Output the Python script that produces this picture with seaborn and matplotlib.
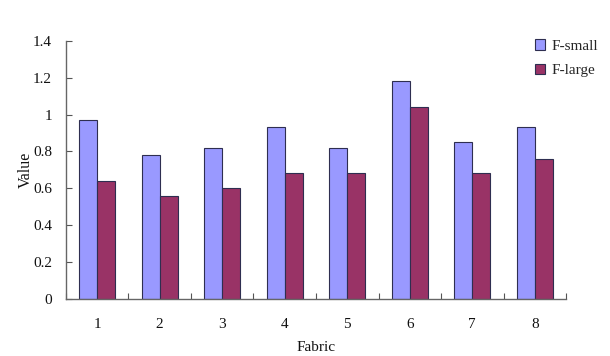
import matplotlib
matplotlib.use("Agg")
import matplotlib.pyplot as plt
import seaborn as sns
import pandas as pd

fabrics = ["1", "2", "3", "4", "5", "6", "7", "8"]
f_small = [0.97, 0.78, 0.82, 0.93, 0.82, 1.18, 0.85, 0.93]
f_large = [0.64, 0.56, 0.60, 0.68, 0.68, 1.04, 0.68, 0.76]
series_names = ["F-small", "F-large"]
y_ticks = [0, 0.2, 0.4, 0.6, 0.8, 1.0, 1.2, 1.4]
y_tick_labels = ["0", "0.2", "0.4", "0.6", "0.8", "1", "1.2", "1.4"]

df = pd.DataFrame({
    "Fabric": fabrics * 2,
    "Value": f_small + f_large,
    "Series": [series_names[0]] * len(fabrics) + [series_names[1]] * len(fabrics),
})

sns.set_theme(style="white")
plt.rcParams["font.family"] = ["Liberation Serif", "DejaVu Serif"]

fig = plt.figure(figsize=(6.1, 3.56), dpi=100)
ax = fig.add_axes([0.108, 0.161, 0.820, 0.724])

palette = {"F-small": "#9999FF", "F-large": "#993366"}
sns.barplot(data=df, x="Fabric", y="Value", hue="Series", order=fabrics,
            hue_order=series_names, palette=palette, width=0.58, gap=0,
            edgecolor="#2e2e50", linewidth=0.8, saturation=1, ax=ax)

ax.set_xlim(-0.5, len(fabrics) - 0.5)
ax.set_ylim(0, 1.4)
ax.set_yticks(y_ticks)
ax.set_yticklabels(y_tick_labels)
ax.set_xticks(range(len(fabrics)))
ax.set_xticklabels(fabrics)
ax.set_xticks([i + 0.5 for i in range(-1, len(fabrics))], minor=True)

ax.tick_params(axis="x", which="major", length=0, pad=14, labelsize=11, labelcolor="#111111")
ax.tick_params(axis="x", which="minor", length=4, direction="in", width=0.8, color="#555555", bottom=True)
ax.tick_params(axis="y", which="major", length=4, direction="in", width=0.8, color="#555555",
               pad=10, labelsize=11, labelcolor="#111111", left=True)

for s in ["top", "right"]:
    ax.spines[s].set_visible(False)
for s in ["left", "bottom"]:
    ax.spines[s].set_color("#666666")
    ax.spines[s].set_linewidth(1.0)

ax.set_xlabel("Fabric", fontsize=11, labelpad=7, color="#111111")
ax.set_ylabel("Value", fontsize=11.5, labelpad=-0.5, color="#111111")

ax.legend(loc="upper left", bbox_to_anchor=(0.925, 1.03), frameon=False, fontsize=11,
          handlelength=0.7, handleheight=0.7, handletextpad=0.4, labelspacing=0.7,
          borderaxespad=0)

fig.savefig("out.png", dpi=100, facecolor="white")
